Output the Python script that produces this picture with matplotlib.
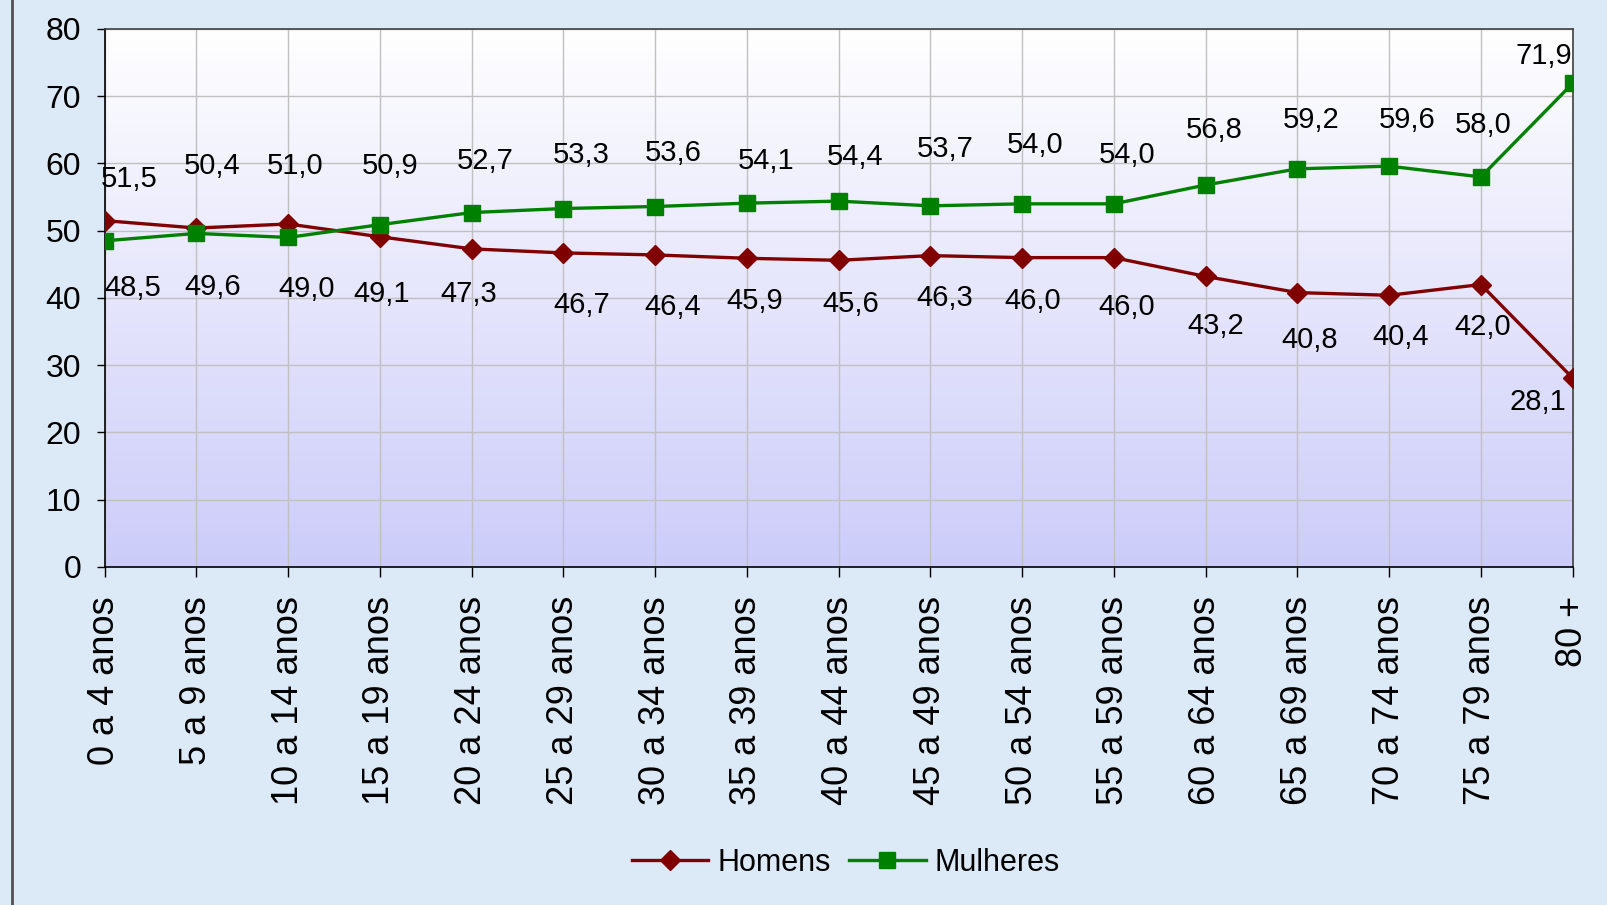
import matplotlib.pyplot as plt
import numpy as np
from matplotlib.lines import Line2D

categorias = ["0 a 4 anos", "5 a 9 anos", "10 a 14 anos", "15 a 19 anos", "20 a 24 anos",
              "25 a 29 anos", "30 a 34 anos", "35 a 39 anos", "40 a 44 anos", "45 a 49 anos",
              "50 a 54 anos", "55 a 59 anos", "60 a 64 anos", "65 a 69 anos", "70 a 74 anos",
              "75 a 79 anos", "80 +"]
homens = [51.5, 50.4, 51.0, 49.1, 47.3, 46.7, 46.4, 45.9, 45.6, 46.3, 46.0, 46.0,
          43.2, 40.8, 40.4, 42.0, 28.1]
mulheres = [48.5, 49.6, 49.0, 50.9, 52.7, 53.3, 53.6, 54.1, 54.4, 53.7, 54.0, 54.0,
            56.8, 59.2, 59.6, 58.0, 71.9]

# label offsets (pixels) for the upper and lower label at each category
cima_dx = [24, 16, 7, 10, 14, 18, 18, 19, 16, 15, 13, 13, 9, 14, 18, 2, -29]
cima_dy = [42, 62, 58, 59, 52, 54, 54, 42, 44, 57, 59, 49, 55, 49, 46, 52, 27]
baixo_dx = [28, 16, 18, 2, -3, 18, 18, 8, 12, 14, 11, 13, 10, 12, 11, 2, -35]
baixo_dy = [-47, -54, -52, -57, -45, -52, -52, -43, -44, -42, -43, -49, -50, -47, -42, -42, -24]

plt.rcParams['font.family'] = ['Liberation Sans', 'DejaVu Sans']

fig = plt.figure(figsize=(16.08, 9.05), dpi=100, facecolor='#dce9f6')
ax = fig.add_axes([0.0651, 0.3735, 0.9129, 0.5945])

# gradient background of plot area
grad = np.linspace(0, 1, 256).reshape(-1, 1)
top = np.array([1.0, 1.0, 1.0])
bot = np.array([0.80, 0.80, 0.98])
img = top + (bot - top) * grad[:, :, None] * np.ones((1, 2, 1))
ax.imshow(img, extent=[0, 1, 0, 1], transform=ax.transAxes, aspect='auto', zorder=0)

x = np.arange(len(categorias))
ax.plot(x, homens, color='#800000', lw=2.4, marker='D', ms=10, zorder=3, label='Homens')
ax.plot(x, mulheres, color='#008000', lw=2.4, marker='s', ms=12, zorder=3, label='Mulheres')

for i in x:
    h, m = homens[i], mulheres[i]
    hi, lo = (h, m) if h > m else (m, h)
    ax.annotate(f"{hi:.1f}".replace('.', ','), (i, hi), xytext=(cima_dx[i], cima_dy[i]),
                textcoords='offset pixels', ha='center', va='center', fontsize=21, zorder=4)
    ax.annotate(f"{lo:.1f}".replace('.', ','), (i, lo), xytext=(baixo_dx[i], baixo_dy[i]),
                textcoords='offset pixels', ha='center', va='center', fontsize=21, zorder=4)

ax.set_xlim(0, len(categorias) - 1)
ax.set_ylim(0, 80)
ax.set_yticks(range(0, 81, 10))
ax.set_xticks(x)
ax.set_xticklabels(categorias, rotation=90, va='top', ha='center')
ax.grid(True, color='#c0c0c0', lw=1)
ax.set_axisbelow(True)
ax.tick_params(axis='y', labelsize=23, length=6, width=1, pad=11)
ax.tick_params(axis='x', labelsize=26, length=7, width=1, pad=14)
for s in ['top', 'right']:
    ax.spines[s].set_color('#404040')
    ax.spines[s].set_linewidth(1.2)
for s in ['left', 'bottom']:
    ax.spines[s].set_color('black')
    ax.spines[s].set_linewidth(1.2)

leg = ax.legend(loc='center', bbox_to_anchor=(0.505, -0.55), ncol=2, frameon=False,
                prop={'size': 22}, handlelength=2.5, handletextpad=0.3,
                columnspacing=0.6)

fig.add_artist(Line2D([12 / 1608, 12 / 1608], [0, 1], color='#505050', lw=2))

fig.savefig('out.png', dpi=100, facecolor=fig.get_facecolor())
